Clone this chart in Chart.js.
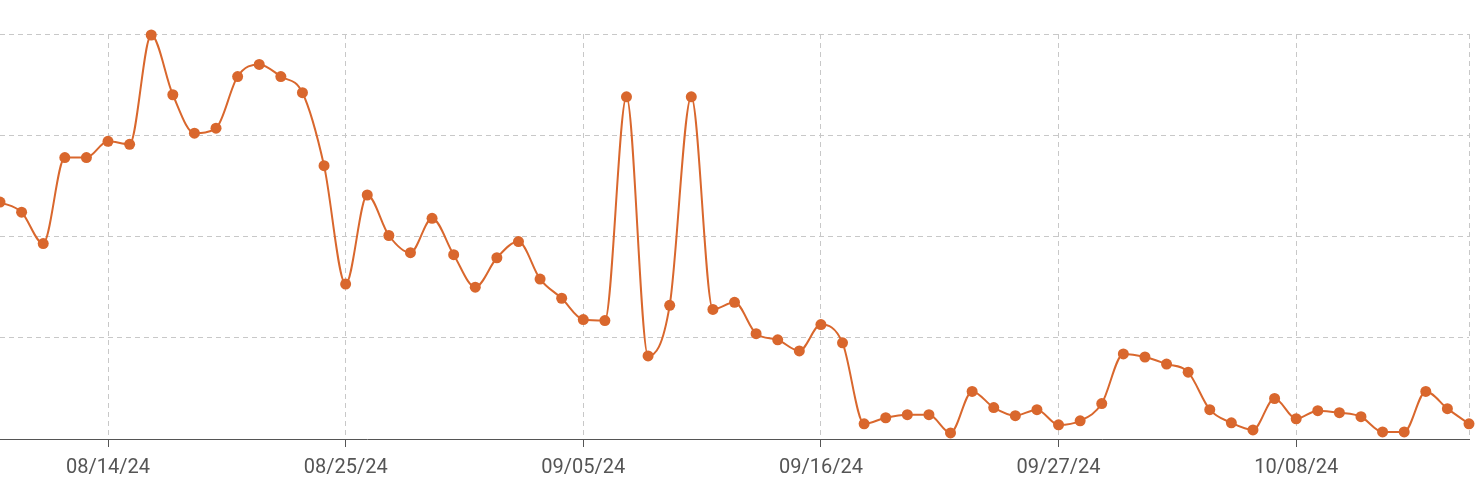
<!DOCTYPE html>
<html>
<head>
<meta charset="utf-8">
<script src="https://cdn.jsdelivr.net/npm/chart.js@4"></script>
<style>
  body { margin: 0; background: #fff; }
  #wrap { width: 1480px; height: 499px; }
</style>
</head>
<body>
<div id="wrap"><canvas id="trendChart"></canvas></div>
<script>
const days = [
  "08/09/24","08/10/24","08/11/24","08/12/24","08/13/24","08/14/24","08/15/24","08/16/24",
  "08/17/24","08/18/24","08/19/24","08/20/24","08/21/24","08/22/24","08/23/24","08/24/24",
  "08/25/24","08/26/24","08/27/24","08/28/24","08/29/24","08/30/24","08/31/24","09/01/24",
  "09/02/24","09/03/24","09/04/24","09/05/24","09/06/24","09/07/24","09/08/24","09/09/24",
  "09/10/24","09/11/24","09/12/24","09/13/24","09/14/24","09/15/24","09/16/24","09/17/24",
  "09/18/24","09/19/24","09/20/24","09/21/24","09/22/24","09/23/24","09/24/24","09/25/24",
  "09/26/24","09/27/24","09/28/24","09/29/24","09/30/24","10/01/24","10/02/24","10/03/24",
  "10/04/24","10/05/24","10/06/24","10/07/24","10/08/24","10/09/24","10/10/24","10/11/24",
  "10/12/24","10/13/24","10/14/24","10/15/24","10/16/24"
];

const values = [
  234, 224, 193, 278, 278, 294, 291, 399, 340, 302, 307, 358, 370, 358, 342, 270,
  153, 241, 201, 184, 218, 182, 150, 179, 195, 158, 139, 118, 117, 338, 82, 132,
  338, 128, 135, 104, 98, 87, 113, 95, 15, 21, 24, 24, 6, 47, 31, 23,
  29, 14, 18, 35, 84, 81, 74, 66, 29, 16, 9, 40, 20, 28, 26, 22,
  7, 7, 47, 30, 15
];

// every 11th day gets a label
const labelIdx = [5, 16, 27, 38, 49, 60];
const lastIdx = days.length - 1;

const orange = '#d9672d';
const gridGrey = '#c8c8c8';

const serie = {
    label: "Trend",
    data: values,
    cubicInterpolationMode: 'monotone',
    fill: false,
    clip: false,
    borderColor: orange,
    borderWidth: 2,
    pointRadius: 5.5,
    pointHoverRadius: 5.5,
    pointBorderWidth: 0,
    pointBackgroundColor: orange
};

const config = {
    type: 'line',
    data: { labels: days, datasets: [serie] },
    options: {
        animation: false,
        responsive: true,
        maintainAspectRatio: false,
        layout: {
            autoPadding: false,
            padding: { left: 0, right: 11, top: 34, bottom: 10 }
        },
        plugins: {
            legend: false,
            tooltip: { enabled: false }
        },
        scales: {
            x: {
                offset: false,
                afterBuildTicks: axis => {
                    axis.ticks = axis.ticks.filter(t => labelIdx.includes(t.value) || t.value === lastIdx);
                },
                border: { display: true, color: '#555', width: 1, dash: [5, 4] },
                grid: {
                    drawTicks: true,
                    tickLength: 8,
                    lineWidth: 1,
                    color: gridGrey,
                    tickColor: ctx => (ctx.tick && ctx.tick.value === lastIdx) ? 'rgba(0,0,0,0)' : '#555'
                },
                ticks: {
                    autoSkip: false,
                    maxRotation: 0,
                    padding: 9,
                    color: '#555',
                    font: { family: 'Roboto', size: 20 },
                    callback: function(val) {
                        return val === lastIdx ? '' : days[val];
                    }
                }
            },
            y: {
                min: 0,
                max: 400,
                border: { display: false, dash: [5, 4] },
                grid: {
                    drawTicks: false,
                    color: gridGrey,
                    lineWidth: 1
                },
                ticks: { display: false, stepSize: 100 }
            }
        }
    }
};

const lineChart = new Chart(document.getElementById("trendChart"), config);
</script>
</body>
</html>
